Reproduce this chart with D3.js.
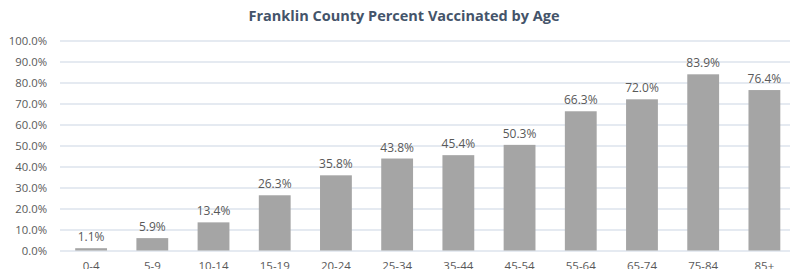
<!DOCTYPE html>
<html><head><meta charset="utf-8">
<script src="https://cdn.jsdelivr.net/npm/d3@7"></script>
<style>body{margin:0;background:#fff;}svg{display:block;}</style>
</head><body>
<script>
const categories = ["0-4","5-9","10-14","15-19","20-24","25-34","35-44","45-54","55-64","65-74","75-84","85+"];
const values = [1.1,5.9,13.4,26.3,35.8,43.8,45.4,50.3,66.3,72.0,83.9,76.4];
const yTicks = [0,10,20,30,40,50,60,70,80,90,100];
const title = "Franklin County Percent Vaccinated by Age";

const W = 790, H = 269;
const svg = d3.select("body").append("svg").attr("width", W).attr("height", H);
const font = "'Open Sans', sans-serif";
const x = d3.scaleBand().domain(categories).range([60.5, 795]).paddingInner(0.48).paddingOuter(0.24);
const y = d3.scaleLinear().domain([0,100]).range([250.5, 40.5]);

svg.append("text").attr("x", 404).attr("y", 21).attr("text-anchor","middle")
  .attr("font-family", font).attr("font-weight","bold").attr("font-size", 14.5)
  .attr("fill","#44546a").text(title);

const yAxis = svg.append("g").attr("transform","translate(60,0)")
  .call(d3.axisLeft(y).tickValues(yTicks).tickSize(-735).tickFormat(d => d.toFixed(1)+"%"));
yAxis.select(".domain").remove();
yAxis.selectAll(".tick line").attr("stroke","#dde3ec").attr("stroke-width",1.3);
yAxis.selectAll(".tick text").attr("x",-13).attr("font-family",font).attr("font-size",11.3).attr("fill","#595959");

svg.selectAll("rect.bar").data(values).join("rect").attr("class","bar")
  .attr("x",(d,i)=>x(categories[i])).attr("width",x.bandwidth())
  .attr("y",d=>y(d)).attr("height",d=>y(0)-y(d)).attr("fill","#a5a5a5");

svg.selectAll("text.lbl").data(values).join("text").attr("class","lbl")
  .attr("x",(d,i)=>x(categories[i])+x.bandwidth()/2).attr("y",d=>y(d)-7)
  .attr("text-anchor","middle").attr("font-family",font).attr("font-size",12)
  .attr("fill","#595959").text(d=>d.toFixed(1)+"%");

const xAxis = svg.append("g").attr("transform","translate(0,"+y(0)+")")
  .call(d3.axisBottom(x).tickSize(0));
xAxis.select(".domain").remove();
xAxis.selectAll(".tick text").attr("dy",0).attr("y",19.5).attr("font-family",font).attr("font-size",11.5).attr("fill","#595959");
</script>
</body></html>
